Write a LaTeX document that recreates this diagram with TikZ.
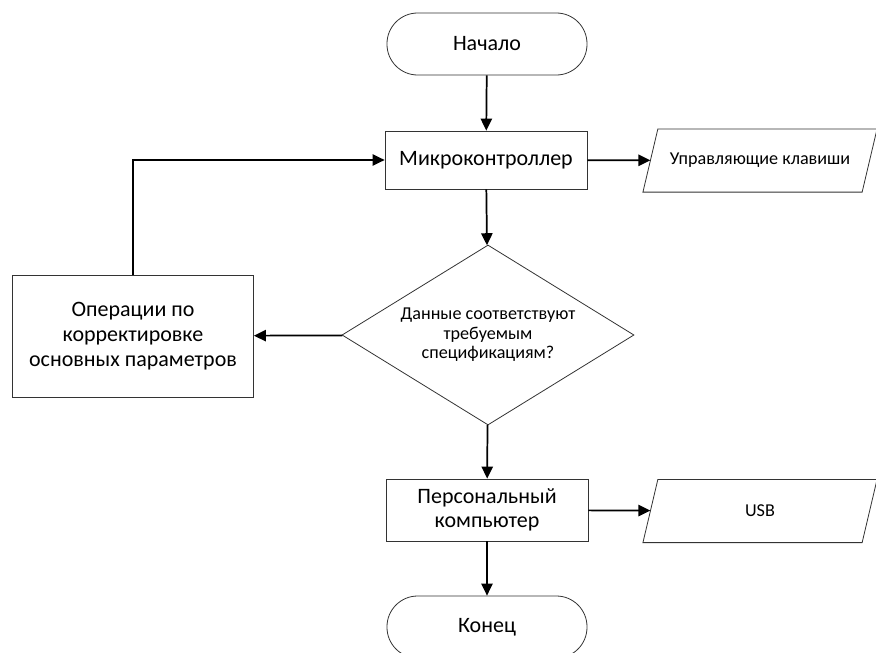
\documentclass[tikz,border=0pt]{standalone}
\usepackage{fontspec}
\setmainfont{Carlito}
\usetikzlibrary{shapes.geometric,arrows.meta}
\newcommand\iobox[1]{\draw[draw=black!80,line width=.6pt] ([xshift=-5.6pt]#1.south west) -- ([xshift=5.6pt]#1.north west) -- ([xshift=5.6pt]#1.north east) -- ([xshift=-5.6pt]#1.south east) -- cycle;}
\begin{document}
\begin{tikzpicture}[x=.75pt,y=-.75pt,
term/.style={draw=black!80,line width=.6pt,rounded corners=23pt,minimum width=150pt,minimum height=46.5pt,font=\fontsize{16.5}{19}\selectfont},
proc/.style={draw=black!80,line width=.6pt,minimum width=151.5pt,minimum height=43.5pt,align=center,font=\fontsize{16.5}{18.5}\selectfont},
io/.style={minimum width=164pt,minimum height=47pt,font=\fontsize{13.6}{15}\selectfont},
dec/.style={draw=black!80,line width=.6pt,diamond,aspect=1.62,minimum width=219pt,minimum height=135pt,inner sep=0pt,align=center,font=\fontsize{13.6}{14.5}\selectfont},
arr/.style={-{Triangle[length=9pt,width=8.5pt]},line width=1.3pt}]
\useasboundingbox (0,0) rectangle (876,653);
\node[term] (start) at (487,44) {Начало};
\node[proc] (mk) at (486,160) {Микроконтроллер};
\node[io] (keys) at (760,160.5) {Управляющие клавиши};
\node[dec] (check) at (488,335) {Данные соответствуют\\требуемым\\спецификациям?};
\node[proc,minimum width=180.75pt,minimum height=91.5pt] (ops) at (133,336) {Операции по\\корректировке\\основных параметров};
\node[proc,minimum height=46.5pt] (pc) at (487,510) {Персональный\\компьютер};
\node[io] (usb) at (760,511) {USB};
\node[term] (end) at (487,627) {Конец};
\iobox{keys}
\iobox{usb}
\draw[arr] (start) -- (mk);
\draw[arr] (mk) -- (keys);
\draw[arr] (mk) -- (check);
\draw[arr] (check) -- (ops);
\draw[arr] (ops.north) |- (mk.west);
\draw[arr] (check) -- (pc);
\draw[arr] (pc) -- (usb);
\draw[arr] (pc) -- (end);
\end{tikzpicture}
\end{document}
